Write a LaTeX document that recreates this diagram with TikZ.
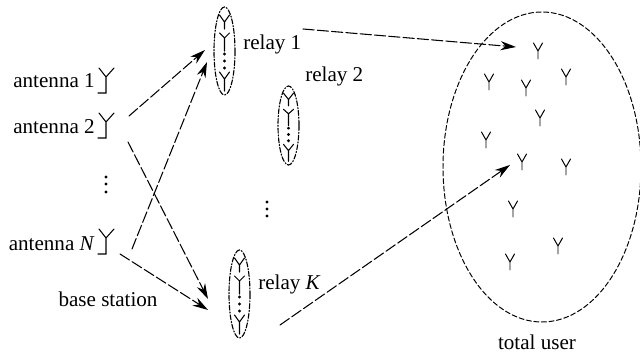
\documentclass[tikz,border=0pt]{standalone}
\usetikzlibrary{arrows.meta}
\usepackage{fontspec}
\setmainfont{Liberation Serif}
\tikzset{
  yant/.pic={\draw[line width=0.7pt] (-4.5,-8) -- (0,0) -- (4.5,-8) (0,0) -- (0,8);},
  link/.style={line width=0.75pt, dash pattern=on 8pt off 2.2pt, -{Stealth[length=11pt,width=6.5pt]}},
  lab/.style={font=\fontsize{15}{17}\selectfont, inner sep=0pt},
  relaybox/.style={line width=0.8pt, dash pattern=on 3.5pt off 1.3pt on 0.8pt off 1.3pt},
}
% antennas in one relay: x, top, height
\newcommand{\relayant}[3]{%
  \draw[relaybox] (#1,#2+#3/2) ellipse (10.5 and #3/2);
  \begin{scope}[shift={(#1,#2)}, yscale=#3/88]
  \draw[line width=0.75pt] (-5,8) -- (0,15) -- (5,8) (0,15) -- (0,22);
  \draw[line width=0.75pt] (-5,26) -- (0,31) -- (5,26) (0,31) -- (0,44);
  \draw[line width=0.75pt] (-5,65) -- (0,72) -- (5,65) (0,72) -- (0,84);
  \foreach \d in {47,54,61} \fill (0,\d) circle (1.7);
  \end{scope}
}
\begin{document}
\begin{tikzpicture}[x=0.025cm, y=-0.025cm, line cap=round]
\useasboundingbox (0,0) rectangle (640,353);
% base station
\node[lab, anchor=east] (ant1) at (95,81) {antenna 1};
\node[lab, anchor=east] (ant2) at (95,127) {antenna 2};
\node[lab, anchor=east] (antN) at (95,244) {antenna \textit{N}};
\node[lab] (bs) at (108,299) {base station};
\foreach \y in {0,45,161} {
  \draw[line width=0.75pt] (99,68+\y) -- (106,77+\y) -- (114,68+\y) (106,77+\y) -- (106,93+\y) -- (98,93+\y);
}
\foreach \y in {177,184,192} \fill (106,\y) circle (1.7);
% relays
\relayant{224.5}{7}{88}
\relayant{288.5}{86}{79}
\relayant{239.5}{250}{88}
\node[lab, anchor=west] (rel1) at (243,44) {relay 1};
\node[lab, anchor=west] (rel2) at (305,76) {relay 2};
\node[lab, anchor=west] (relK) at (258,284) {relay \textit{K}};
\foreach \y in {202,209,216} \fill (267,\y) circle (1.7);
% users
\draw[line width=0.7pt, dash pattern=on 3.6pt off 1.8pt] (542,167) ellipse (99 and 155);
\foreach \x/\y in {538/51, 489/82, 526/88, 566/77, 540/118, 486/140, 522/162, 566/167, 513/209, 558/246, 510/262} {
  \pic at (\x,\y) {yant};
}
\node[lab] (tot) at (537,342) {total user};
% links
\coordinate (a2o) at (129,116);
\coordinate (a2i) at (128,142);
\coordinate (aNa) at (132,249);
\coordinate (aNb) at (120,254);
\coordinate (r1a) at (205,50);
\coordinate (r1b) at (207,62);
\coordinate (rKa) at (208,299);
\coordinate (rKb) at (208,310);
\coordinate (r1o) at (303,29);
\coordinate (rKo) at (280,325);
\coordinate (u1) at (516,47);
\coordinate (u2) at (510,165);
\draw[link] (a2o) -- (r1a);
\draw[link] (a2i) -- (rKa);
\draw[link] (aNa) -- (r1b);
\draw[link] (aNb) -- (rKb);
\draw[link] (r1o) -- (u1);
\draw[link] (rKo) -- (u2);
\end{tikzpicture}
\end{document}
